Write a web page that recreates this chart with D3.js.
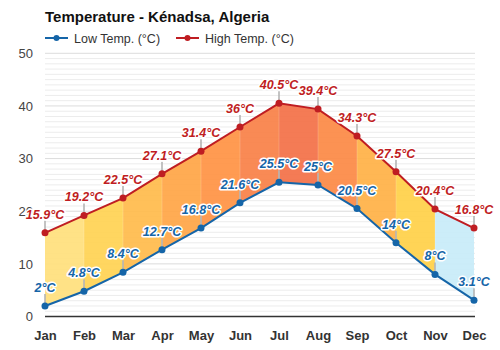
<!DOCTYPE html>
<html>
<head>
<meta charset="utf-8">
<script src="https://cdn.jsdelivr.net/npm/d3@7"></script>
<style>
  html, body { margin: 0; padding: 0; background: #fff; }
  svg { display: block; font-family: "Liberation Sans", Arial, sans-serif; }
</style>
</head>
<body>
<svg id="chart" width="500" height="350"></svg>
<script>
// Monthly climate figures for Kénadsa
const months = ["Jan", "Feb", "Mar", "Apr", "May", "Jun", "Jul", "Aug", "Sep", "Oct", "Nov", "Dec"];
const highTemps = [15.9, 19.2, 22.5, 27.1, 31.4, 36, 40.5, 39.4, 34.3, 27.5, 20.4, 16.8];
const lowTemps = [2, 4.8, 8.4, 12.7, 16.8, 21.6, 25.5, 25, 20.5, 14, 8, 3.1];
const yTicks = [0, 10, 20, 30, 40, 50];

// Band fill between consecutive months (warm to cool)
const bandColors = ["#ffe07c", "#ffd352", "#ffbb4b", "#ffa545", "#ff9343", "#f88046",
                    "#f37046", "#fc8944", "#ffb145", "#ffd048", "#c8ecf9"];

const lowColor = "#1565a8";
const highColor = "#bf1d22";

const svg = d3.select("#chart");

const x = d3.scalePoint().domain(months).range([45, 474]);
const y = d3.scaleLinear().domain([0, 50]).range([316.5, 53.3]);

// Gridlines: faint every degree, stronger every ten
const grid = svg.append("g");
grid.selectAll("line.minor")
  .data(d3.range(1, 50).filter(v => v % 10 !== 0))
  .join("line")
  .attr("x1", 45).attr("x2", 475)
  .attr("y1", d => y(d)).attr("y2", d => y(d))
  .attr("stroke", "#ececec").attr("stroke-width", 1);
grid.selectAll("line.major")
  .data(yTicks.filter(v => v > 0))
  .join("line")
  .attr("x1", 45).attr("x2", 475)
  .attr("y1", d => y(d)).attr("y2", d => y(d))
  .attr("stroke", "#dcdcdc").attr("stroke-width", 1);

// Y axis labels
const yAxis = d3.axisLeft(y).tickValues(yTicks).tickSize(0).tickPadding(0);
const yg = svg.append("g").attr("transform", "translate(33,0)").call(yAxis);
yg.select(".domain").remove();
yg.selectAll("text")
  .attr("font-size", 13).attr("fill", "#444")
  .attr("font-family", "Liberation Sans, Arial, sans-serif");

// Coloured bands between low and high lines
const bands = d3.range(months.length - 1).map(i => ({
  i,
  pts: [
    [x(months[i]), y(highTemps[i])],
    [x(months[i + 1]), y(highTemps[i + 1])],
    [x(months[i + 1]), y(lowTemps[i + 1])],
    [x(months[i]), y(lowTemps[i])]
  ]
}));
svg.append("g").selectAll("path")
  .data(bands)
  .join("path")
  .attr("d", d => "M" + d.pts.map(p => p.join(",")).join("L") + "Z")
  .attr("fill", d => bandColors[d.i])
  .attr("fill-opacity", 0.92);

// Faint month dividers inside the band
svg.append("g").selectAll("line")
  .data(months.slice(1, -1))
  .join("line")
  .attr("x1", d => x(d)).attr("x2", d => x(d))
  .attr("y1", (d, i) => y(highTemps[i + 1])).attr("y2", (d, i) => y(lowTemps[i + 1]))
  .attr("stroke", "#ffffff").attr("stroke-opacity", 0.18).attr("stroke-width", 1);

// X axis baseline and month labels
const xAxis = d3.axisBottom(x).tickSize(0).tickPadding(14);
const xg = svg.append("g").attr("transform", `translate(0,${y(0)})`).call(xAxis);
xg.select(".domain").attr("stroke", "#333").attr("stroke-width", 1.5)
  .attr("d", `M45,0H475`);
xg.selectAll("text")
  .attr("font-size", 13).attr("font-weight", "bold").attr("fill", "#333")
  .attr("font-family", "Liberation Sans, Arial, sans-serif");

// Leader ticks from each point up to its label
function leaders(values) {
  svg.append("g").selectAll("line")
    .data(values)
    .join("line")
    .attr("x1", (d, i) => x(months[i])).attr("x2", (d, i) => x(months[i]))
    .attr("y1", d => y(d)).attr("y2", d => y(d) - 12)
    .attr("stroke", "#b4b4b4").attr("stroke-width", 2).attr("stroke-opacity", 0.8);
}
leaders(highTemps);
leaders(lowTemps);

// Series lines and markers
function series(values, color) {
  const line = d3.line().x((d, i) => x(months[i])).y(d => y(d));
  svg.append("path").datum(values)
    .attr("d", line).attr("fill", "none")
    .attr("stroke", color).attr("stroke-width", 2);
  svg.append("g").selectAll("circle")
    .data(values)
    .join("circle")
    .attr("cx", (d, i) => x(months[i])).attr("cy", d => y(d))
    .attr("r", 3.5).attr("fill", color);
}
series(lowTemps, lowColor);
series(highTemps, highColor);

// Value labels with a white halo
function labels(values, color) {
  svg.append("g").selectAll("text")
    .data(values)
    .join("text")
    .attr("x", (d, i) => x(months[i])).attr("y", d => y(d) - 14)
    .attr("text-anchor", "middle")
    .attr("font-size", 12.5).attr("font-weight", "bold").attr("font-style", "italic")
    .attr("fill", color)
    .attr("stroke", "#fff").attr("stroke-width", 3).attr("stroke-linejoin", "round")
    .attr("paint-order", "stroke")
    .text(d => d + "°C");
}
labels(highTemps, highColor);
labels(lowTemps, lowColor);

// Title
svg.append("text")
  .attr("x", 45).attr("y", 22)
  .attr("font-size", 15).attr("font-weight", "bold").attr("fill", "#111")
  .text("Temperature - Kénadsa, Algeria");

// Legend
const legendItems = [
  { label: "Low Temp. (°C)", color: lowColor, x: 45 },
  { label: "High Temp. (°C)", color: highColor, x: 176 }
];
const lg = svg.append("g").selectAll("g")
  .data(legendItems)
  .join("g")
  .attr("transform", d => `translate(${d.x},38)`);
lg.append("line")
  .attr("x1", 0).attr("x2", 23).attr("y1", 0).attr("y2", 0)
  .attr("stroke", d => d.color).attr("stroke-width", 2);
lg.append("circle")
  .attr("cx", 11.5).attr("cy", 0).attr("r", 3).attr("fill", d => d.color);
lg.append("text")
  .attr("x", 29).attr("y", 4.5)
  .attr("font-size", 12.5).attr("fill", "#333")
  .text(d => d.label);
</script>
</body>
</html>
